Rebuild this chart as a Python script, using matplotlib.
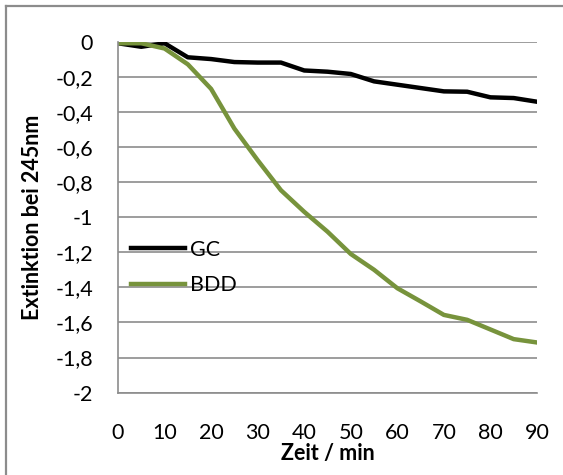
import matplotlib.pyplot as plt
from matplotlib.lines import Line2D

# Zeit in Minuten
zeit = [0, 5, 10, 15, 20, 25, 30, 35, 40, 45, 50, 55, 60, 65, 70, 75, 80, 85, 90]
# Extinktion bei 245nm
gc = [-0.01, -0.03, -0.01, -0.09, -0.10, -0.117, -0.12, -0.12, -0.165, -0.172, -0.185,
      -0.227, -0.246, -0.265, -0.284, -0.286, -0.318, -0.322, -0.343]
bdd = [-0.01, -0.01, -0.04, -0.13, -0.27, -0.496, -0.676, -0.847, -0.97, -1.083, -1.21,
       -1.30, -1.405, -1.48, -1.557, -1.585, -1.64, -1.695, -1.714]
yticks = [0, -0.2, -0.4, -0.6, -0.8, -1, -1.2, -1.4, -1.6, -1.8, -2]
xticks = [0, 10, 20, 30, 40, 50, 60, 70, 80, 90]

plt.rcParams['font.family'] = ['Lato', 'DejaVu Sans']
fs = 15.5

W, H = 563, 475
fig = plt.figure(figsize=(W / 100, H / 100), dpi=100)
ax = fig.add_axes([118 / W, 1 - 392.7 / H, (537 - 118) / W, (392.7 - 41.5) / H])

# Rahmen (links und oben sichtbar)
rahmen = '#8c8c8c'
fig.lines.append(Line2D([6 / W, 6 / W], [0, 1 - 5.5 / H], transform=fig.transFigure,
                        color=rahmen, linewidth=1.6))
fig.lines.append(Line2D([6 / W, 1], [1 - 5.5 / H, 1 - 5.5 / H], transform=fig.transFigure,
                        color=rahmen, linewidth=1.6))

ax.plot(zeit, gc, color='black', linewidth=3.2, label='GC', solid_joinstyle='round')
ax.plot(zeit, bdd, color='#77933c', linewidth=3.2, label='BDD', solid_joinstyle='round')

ax.set_xlim(0, 90)
ax.set_ylim(-2, 0)
ax.set_xticks(xticks)
ax.set_xticklabels([str(t) for t in xticks])
ax.set_yticks(yticks)
ax.set_yticklabels([('%g' % v).replace('.', ',') for v in yticks])
ax.tick_params(axis='both', length=0, labelsize=fs, colors='black')
ax.tick_params(axis='x', pad=22)
ax.tick_params(axis='y', pad=18)

ax.grid(True, axis='y', color='#8c8c8c', linewidth=1.2)
ax.set_axisbelow(True)
for s in ['top', 'right']:
    ax.spines[s].set_visible(False)
for s in ['left', 'bottom']:
    ax.spines[s].set_color('#8c8c8c')
    ax.spines[s].set_linewidth(1.2)

ax.set_xlabel('Zeit / min', fontsize=fs, fontweight='bold', labelpad=0)
ax.set_ylabel('Extinktion bei 245nm', fontsize=fs, fontweight='bold', labelpad=9)

ax.legend(loc='center left', bbox_to_anchor=(0.01, (392.7 - 267.5) / 351.2), frameon=False,
          fontsize=fs, handlelength=2.5, handletextpad=0.25, labelspacing=0.7,
          borderaxespad=0.0, borderpad=0.4)

fig.savefig('out.png', dpi=100)
